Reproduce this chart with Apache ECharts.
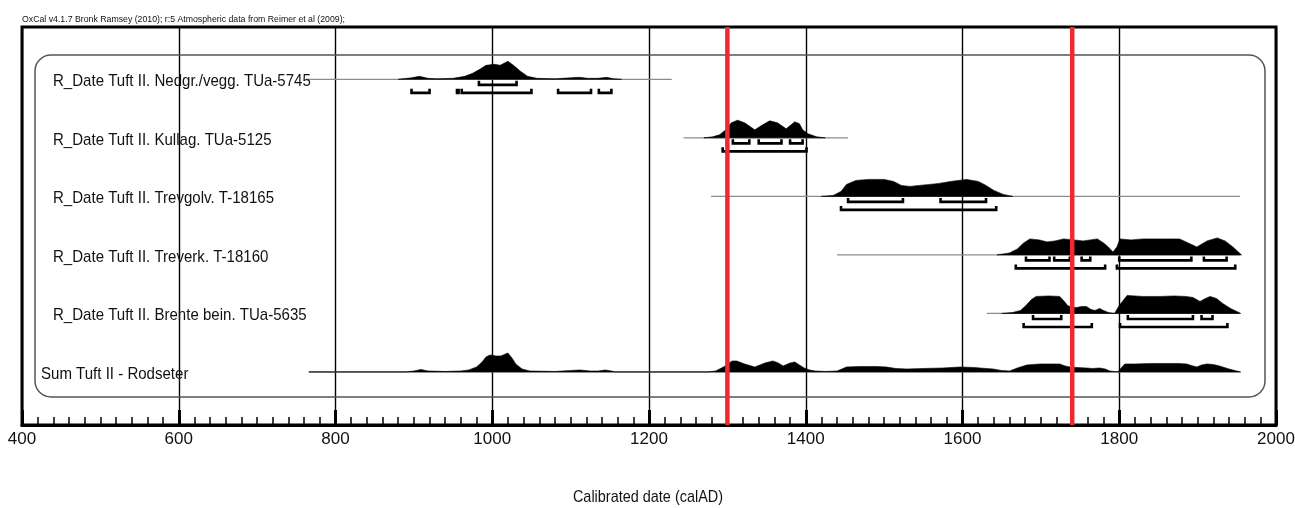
<!DOCTYPE html>
<html>
<head>
<meta charset="utf-8">
<script src="https://cdn.jsdelivr.net/npm/echarts@6.0.0/dist/echarts.min.js"></script>
<style>
  html, body { margin: 0; padding: 0; background: #fff; }
  #chart { width: 1295px; height: 508px; }
</style>
</head>
<body>
<div id="chart"></div>
<script>
// --- data ---
const rowLabels = [
  'R_Date Tuft II. Nedgr./vegg. TUa-5745',
  'R_Date Tuft II. Kullag. TUa-5125',
  'R_Date Tuft II. Trevgolv. T-18165',
  'R_Date Tuft II. Treverk. T-18160',
  'R_Date Tuft II. Brente bein. TUa-5635',
  'Sum Tuft II - Rodseter'
];

// extent of the thin base line of each row (calAD)
const rowSpans = [[762, 1229], [1244, 1454], [1279, 1954], [1440, 1954], [1631, 1954], [766, 1954]];

// posterior probability, arbitrary units: [year, prob]
const probNedgr = [[880,0],[897,1.5],[907,3],[918,1],[930,0.5],[950,1],[965,3],[975,6],[984,10],[992,14],[1003,15],[1010,14],[1020,18],[1027,14],[1036,8],[1045,3],[1057,1],[1080,0.5],[1100,1.5],[1111,2],[1122,1],[1135,1],[1146,2],[1155,0.5],[1165,0]];
const probKullag = [[1270,0],[1281,1],[1290,3],[1298,8],[1305,15],[1313,17.7],[1322,15],[1335,8],[1345,13],[1354,17],[1364,15],[1375,9],[1386,16],[1392,14],[1396,8],[1403,4],[1414,1],[1425,0]];
const probTrevgolv = [[1420,0],[1435,1],[1445,5],[1452,12],[1464,16],[1480,17],[1500,17],[1512,15],[1522,11],[1533,10],[1545,11],[1558,12],[1570,13],[1585,15],[1605,17],[1620,15],[1630,11],[1640,6],[1652,2],[1664,0]];
const probTreverk = [[1644,0],[1660,2],[1670,6],[1678,12],[1686,16],[1698,15],[1708,13],[1718,14],[1729,16],[1742,15],[1754,14],[1763,15],[1772,16],[1780,12],[1786,8],[1792,3],[1797,8],[1801,16],[1815,15],[1830,16],[1843,16],[1860,16],[1877,16],[1888,12],[1899,8],[1912,14],[1925,17],[1935,14],[1945,8],[1952,3],[1956,0]];
const probBrente = [[1650,0],[1664,1],[1674,3],[1681,8],[1688,14],[1694,17],[1710,17.5],[1724,17],[1730,12],[1734,8],[1740,6],[1746,6],[1752,7],[1758,7],[1764,4],[1769,3],[1775,5],[1780,3],[1786,1],[1794,0],[1800,8],[1810,18],[1830,17],[1852,17],[1870,17.5],[1885,17],[1894,16],[1903,12],[1910,15],[1916,17],[1924,15],[1932,10],[1942,5],[1950,2],[1955,0]];
const probSum = [[766,0],[890,0],[900,1],[909,2.5],[918,1],[940,0.5],[960,1],[970,2],[980,5],[987,10],[992,15],[997,17],[1005,16],[1011,16],[1020,19],[1026,13],[1030,8],[1038,3],[1048,1],[1080,0.5],[1100,1.5],[1112,2],[1125,1],[1135,1],[1144,2],[1152,1],[1157,0],[1275,0],[1285,1],[1295,5],[1306,11],[1312,11],[1322,8],[1335,5],[1348,9],[1358,11],[1365,9],[1371,6],[1380,9],[1386,10],[1392,7],[1398,4],[1405,2],[1412,1],[1425,0.5],[1440,1],[1452,5],[1470,5.5],[1490,5.5],[1503,5],[1515,3.5],[1529,3],[1550,3.5],[1575,4],[1597,5],[1615,4.5],[1630,3.5],[1639,3],[1650,1.5],[1660,1],[1670,4],[1682,7],[1699,8],[1712,8],[1724,8],[1731,6],[1737,5],[1745,4.5],[1758,4],[1766,3.5],[1775,4],[1782,3],[1788,1],[1798,0],[1807,8],[1820,8],[1840,8.5],[1860,8.5],[1875,8.5],[1886,8],[1892,6.5],[1899,5],[1905,7],[1912,8],[1920,7.5],[1928,6],[1940,3],[1950,1],[1955,0]];
const rowProbs = [probNedgr, probKullag, probTrevgolv, probTreverk, probBrente, probSum];

// 68.2% and 95.4% highest posterior density ranges (calAD)
const ranges68 = [
  [[983, 1031]],
  [[1307, 1328], [1340, 1369], [1380, 1396]],
  [[1454, 1524], [1572, 1630]],
  [[1681, 1711], [1717, 1737], [1752, 1763], [1800, 1892], [1908, 1937]],
  [[1690, 1726], [1811, 1894], [1905, 1919]],
  []
];
const ranges95 = [
  [[897, 920], [955, 957], [961, 1050], [1084, 1126], [1136, 1152]],
  [[1294, 1401]],
  [[1445, 1643]],
  [[1668, 1782], [1797, 1948]],
  [[1678, 1765], [1801, 1938]],
  []
];

// red reference lines (calAD)
const markerYears = [1300, 1740];

const xTicks = { min: 400, max: 2000, step: 200 };
const axisTitle = 'Calibrated date (calAD)';
const topNote = 'OxCal v4.1.7 Bronk Ramsey (2010); r:5 Atmospheric data from Reimer et al (2009);';

// --- layout ---
const ROW0 = 0.894;        // baseline of first row, in row units
const ROWS_MAX = 6.8;      // plot height in row units
const PROB_SCALE = 1 / 58.5;
const FONT = "'Liberation Sans', Arial, sans-serif";
const labelX = [53, 53, 53, 53, 53, 41];
const NARROW = 0.885;      // the original uses a condensed face

function bracket(api, r, base, off) {
  const a = api.coord([r[0], base]);
  const b = api.coord([r[1], base]);
  const y = a[1] + off;
  return {
    type: 'polyline',
    shape: { points: [[a[0], y - 4], [a[0], y], [b[0], y], [b[0], y - 4]] },
    style: { stroke: '#000', lineWidth: 2.6, fill: null, lineJoin: 'miter' }
  };
}

function renderRow(params, api) {
  const i = params.dataIndex;
  const base = ROW0 + i;
  const s0 = api.coord([rowSpans[i][0], base]);
  const s1 = api.coord([rowSpans[i][1], base]);
  const probs = rowProbs[i];
  const pts = probs.map(d => api.coord([d[0], base - d[1] * PROB_SCALE]));
  pts.unshift(api.coord([probs[0][0], base]));
  pts.push(api.coord([probs[probs.length - 1][0], base]));

  const children = [
    { type: 'line', shape: { x1: s0[0], y1: s0[1], x2: s1[0], y2: s1[1] },
      style: { stroke: '#8c8c8c', lineWidth: 1.3 } },
    { type: 'polygon', shape: { points: pts }, style: { fill: '#000', stroke: '#000', lineWidth: 0.6 } }
  ];
  ranges68[i].forEach(r => children.push(bracket(api, r, base, 5.5)));
  ranges95[i].forEach(r => children.push(bracket(api, r, base, 13.5)));
  children.push({
    type: 'text',
    x: labelX[i],
    y: s0[1] + 2,
    scaleX: NARROW,
    style: { text: rowLabels[i], x: 0, y: 0, verticalAlign: 'middle',
             font: '17px ' + FONT, fill: '#111' }
  });
  return { type: 'group', children };
}

function renderMarker(params, api) {
  const yr = markerYears[params.dataIndex];
  const top = api.coord([yr, 0]);
  const bot = api.coord([yr, ROWS_MAX]);
  return {
    type: 'line',
    shape: { x1: top[0], y1: top[1], x2: bot[0], y2: bot[1] },
    style: { stroke: '#ee2a2f', lineWidth: 4.5 }
  };
}

const chart = echarts.init(document.getElementById('chart'), null, { renderer: 'canvas' });

chart.setOption({
  backgroundColor: '#fff',
  animation: false,
  grid: { left: 22, right: 19, top: 27, bottom: 83, show: true, borderColor: '#000', borderWidth: 3,
          containLabel: false, outerBoundsMode: 'none' },
  xAxis: {
    type: 'value',
    min: xTicks.min,
    max: xTicks.max,
    interval: xTicks.step,
    axisLine: { show: true, onZero: false, lineStyle: { color: '#000', width: 3 } },
    axisTick: { show: true, inside: true, length: 15, lineStyle: { color: '#000', width: 3 } },
    minorTick: { show: true, splitNumber: 10, length: 8, lineStyle: { color: '#000', width: 1.5 } },
    axisLabel: { fontFamily: FONT, fontSize: 17, color: '#111', margin: 6,
                 showMinLabel: true, showMaxLabel: true, formatter: v => String(v) },
    splitLine: { show: true, lineStyle: { color: '#000', width: 1.4 } }
  },
  yAxis: {
    type: 'value',
    min: 0,
    max: ROWS_MAX,
    inverse: true,
    show: false,
    splitLine: { show: false }
  },
  graphic: [
    { type: 'rect', z: 1, shape: { x: 35, y: 55, width: 1230, height: 342, r: 16 },
      style: { fill: null, stroke: '#555', lineWidth: 1.5 } },
    { type: 'text', z: 1, x: 22, y: 14, scaleX: 0.92,
      style: { text: topNote, font: '9.5px ' + FONT, fill: '#111' } },
    { type: 'text', z: 1, x: 648, y: 497, scaleX: 0.85,
      style: { text: axisTitle, font: '17px ' + FONT, fill: '#111', align: 'center', verticalAlign: 'middle' } }
  ],
  series: [
    {
      type: 'custom',
      z: 3,
      renderItem: renderRow,
      data: rowLabels.map((_, i) => i),
      clip: false
    },
    {
      type: 'custom',
      z: 5,
      renderItem: renderMarker,
      data: markerYears.map((_, i) => i),
      clip: false
    }
  ]
});
</script>
</body>
</html>
